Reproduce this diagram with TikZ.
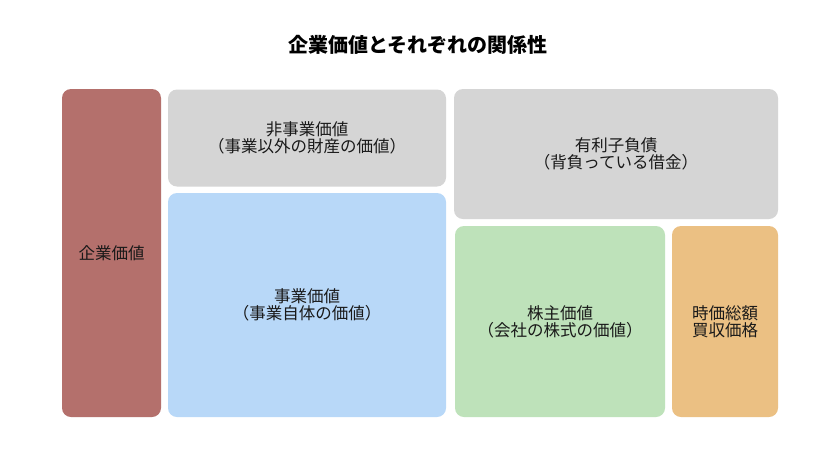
\documentclass[tikz,border=0pt]{standalone}
\usepackage{fontspec}
\setmainfont{Noto Sans CJK JP}
\usetikzlibrary{positioning}
\definecolor{evred}{HTML}{B4706C}
\definecolor{nongray}{HTML}{D5D5D5}
\definecolor{opblue}{HTML}{B8D8F8}
\definecolor{eqgreen}{HTML}{BEE2BA}
\definecolor{mcorange}{HTML}{EBC083}
\tikzstyle{block}=[rounded corners=9pt, inner sep=0pt, align=center,
  text=black!90, font=\fontsize{16.5}{17}\selectfont]
\tikzstyle{heading}=[font=\fontsize{20}{22}\selectfont\bfseries]

\begin{document}
\begin{tikzpicture}[x=1pt, y=-1pt]
  \useasboundingbox[fill=white] (0, 0) rectangle (840, 451);
  \node[heading] (title) at (418, 45) {企業価値とそれぞれの関係性};
  \node[block, fill=evred, minimum width=99pt, minimum height=328pt]
    (ev) at (111.5, 253) {企業価値};
  \node[block, fill=nongray, minimum width=278pt, minimum height=97pt]
    (nonop) at (307, 138) {非事業価値\\（事業以外の財産の価値）};
  \node[block, fill=opblue, minimum width=278pt, minimum height=224pt]
    (op) at (307, 305) {事業価値\\（事業自体の価値）};
  \node[block, fill=nongray, minimum width=324pt, minimum height=130pt]
    (debt) at (616, 154) {有利子負債\\（背負っている借金）};
  \node[block, fill=eqgreen, minimum width=210pt, minimum height=191pt]
    (equity) at (560, 321.5) {株主価値\\（会社の株式の価値）};
  \node[block, fill=mcorange, minimum width=106pt, minimum height=191pt]
    (mcap) at (725, 321.5) {時価総額\\買収価格};
\end{tikzpicture}
\end{document}
